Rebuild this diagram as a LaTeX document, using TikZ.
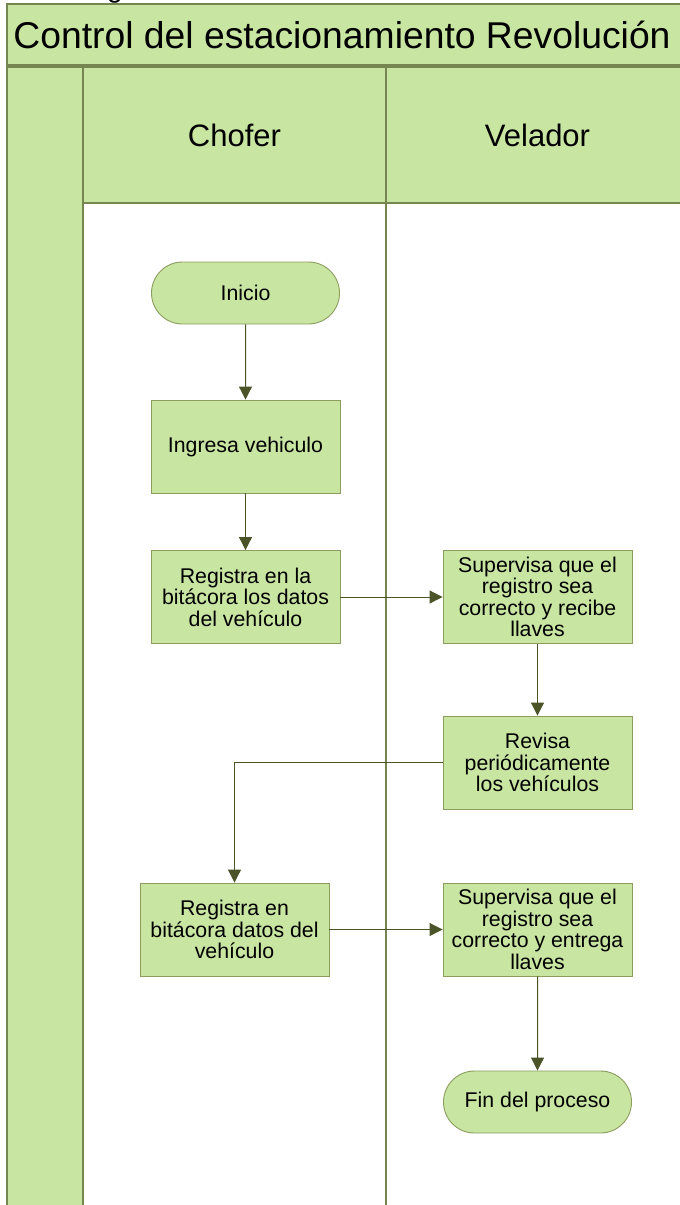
\documentclass[tikz,border=0pt]{standalone}
\usepackage{fontspec}
\setmainfont{Liberation Sans}
\usetikzlibrary{arrows.meta,shapes.misc}
\definecolor{lanegreen}{RGB}{200,230,162}
\definecolor{laneline}{RGB}{118,134,80}
\definecolor{boxline}{RGB}{140,156,94}
\definecolor{arrowcol}{RGB}{74,84,40}
\tikzset{
  lanefill/.style={fill=lanegreen,draw=laneline,line width=1.6pt},
  procbox/.style={rectangle,fill=lanegreen,draw=boxline,line width=0.9pt,
    minimum width=189pt,minimum height=93pt,inner sep=2pt,align=center,
    font=\fontsize{21.3}{21.5}\selectfont},
  termbox/.style={rounded rectangle,fill=lanegreen,draw=boxline,line width=0.9pt,
    minimum width=192pt,minimum height=62pt,inner sep=2pt,align=center,
    font=\fontsize{21.3}{21.5}\selectfont},
  flow/.style={draw=arrowcol,line width=1pt,-{Triangle[width=13pt,length=13pt]}},
  lanelabel/.style={font=\fontsize{31}{34}\selectfont},
}
\begin{document}
\begin{tikzpicture}[x=1pt,y=-1pt]
\useasboundingbox (0,0) rectangle (680,1205);
\fill[white] (0,0) rectangle (680,1205);
% clipped fragment at the top
\node[anchor=base,inner sep=0pt,font=\fontsize{28}{28}\selectfont] (frag) at (115,-3) {g};
% title band
\draw[lanefill] (7,4) rectangle (695,65);
\node[font=\fontsize{37.3}{39}\selectfont] (title) at (342,35) {Control del estacionamiento Revolución};
% left strip
\draw[lanefill] (7,67) rectangle (83,1215);
% lane headers
\draw[lanefill] (83,67) rectangle (386,203);
\draw[lanefill] (386,67) rectangle (695,203);
\draw[laneline,line width=1.6pt] (386,203) -- (386,1215);
\node[lanelabel] (chofer) at (234.5,135) {Chofer};
\node[lanelabel] (velador) at (537.5,135) {Velador};
% nodes
\node[termbox] (inicio) at (245.5,293) {Inicio};
\node[procbox] (ingresa) at (245.5,446.5) {Ingresa vehiculo};
\node[procbox] (reg1) at (245.5,597) {Registra en la\\bitácora los datos\\del vehículo};
\node[procbox] (sup1) at (537.5,597) {Supervisa que el\\registro sea\\correcto y recibe\\llaves};
\node[procbox] (rev) at (537.5,762.5) {Revisa\\periódicamente\\los vehículos};
\node[procbox] (reg2) at (234.5,929.5) {Registra en\\bitácora datos del\\vehículo};
\node[procbox] (sup2) at (537.5,929.5) {Supervisa que el\\registro sea\\correcto y entrega\\llaves};
\node[termbox] (fin) at (537.5,1102) {Fin del proceso};
% connectors
\draw[flow] (inicio) -- (ingresa);
\draw[flow] (ingresa) -- (reg1);
\draw[flow] (reg1) -- (sup1);
\draw[flow] (sup1) -- (rev);
\draw[flow] (rev.west) -| (reg2.north);
\draw[flow] (reg2) -- (sup2);
\draw[flow] (sup2) -- (fin);
\end{tikzpicture}
\end{document}
